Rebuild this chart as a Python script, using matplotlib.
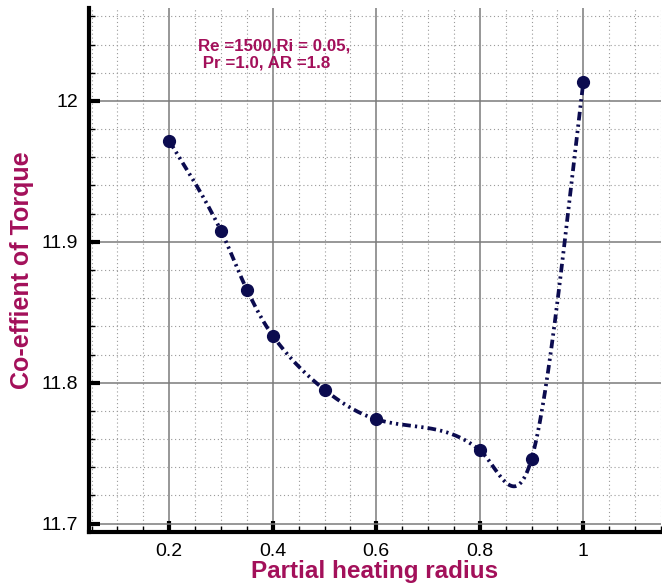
import numpy as np
import matplotlib
matplotlib.use("Agg")
import matplotlib.pyplot as plt
from matplotlib.ticker import MultipleLocator

radius = [0.2, 0.3, 0.35, 0.4, 0.5, 0.6, 0.8, 0.9, 1.0]
torque = [11.9716, 11.9078, 11.866, 11.8333, 11.795, 11.774, 11.752, 11.746, 12.0135]
x_ticks = [0.2, 0.4, 0.6, 0.8, 1.0]
x_ticklabels = ["0.2", "0.4", "0.6", "0.8", "1"]
y_ticks = [11.7, 11.8, 11.9, 12.0]
y_ticklabels = ["11.7", "11.8", "11.9", "12"]
annotation = "Re =1500,Ri = 0.05,\n Pr =1.0, AR =1.8"


def natural_spline(x, y, xs):
    x = np.asarray(x, float); y = np.asarray(y, float)
    n = len(x); h = np.diff(x)
    A = np.zeros((n, n)); b = np.zeros(n)
    A[0, 0] = 1; A[-1, -1] = 1
    for i in range(1, n - 1):
        A[i, i - 1] = h[i - 1]; A[i, i] = 2 * (h[i - 1] + h[i]); A[i, i + 1] = h[i]
        b[i] = 3 * ((y[i + 1] - y[i]) / h[i] - (y[i] - y[i - 1]) / h[i - 1])
    c = np.linalg.solve(A, b)
    out = np.empty_like(xs)
    for k, xv in enumerate(xs):
        i = min(max(np.searchsorted(x, xv) - 1, 0), n - 2)
        dx = xv - x[i]
        bb = (y[i + 1] - y[i]) / h[i] - h[i] * (2 * c[i] + c[i + 1]) / 3
        d = (c[i + 1] - c[i]) / (3 * h[i])
        out[k] = y[i] + bb * dx + c[i] * dx ** 2 + d * dx ** 3
    return out


def catmull_rom(x, y, xs):
    x = np.asarray(x, float); y = np.asarray(y, float)
    m = np.empty(len(x))
    m[1:-1] = (y[2:] - y[:-2]) / (x[2:] - x[:-2])
    m[0] = (y[1] - y[0]) / (x[1] - x[0]); m[-1] = (y[-1] - y[-2]) / (x[-1] - x[-2])
    out = np.empty_like(xs)
    for k, xv in enumerate(xs):
        i = min(max(np.searchsorted(x, xv) - 1, 0), len(x) - 2)
        h = x[i + 1] - x[i]; s = (xv - x[i]) / h
        out[k] = ((2*s**3 - 3*s**2 + 1) * y[i] + (s**3 - 2*s**2 + s) * h * m[i]
                  + (-2*s**3 + 3*s**2) * y[i + 1] + (s**3 - s**2) * h * m[i + 1])
    return out


plt.rcParams['font.family'] = ['Liberation Sans', 'DejaVu Sans']
fig = plt.figure(figsize=(6.62, 5.83), dpi=100)
ax = fig.add_axes([89 / 662, 51 / 583, 572 / 662, 524 / 583])

label_color = '#a3105a'
line_color = '#0b0b4f'

ax.set_xlim(0.045, 1.15)
ax.set_ylim(11.694, 12.066)

xs = np.linspace(radius[0], radius[-1], 800)
ys = 0.5 * (natural_spline(radius, torque, xs) + catmull_rom(radius, torque, xs))
ax.plot(xs, ys, color=line_color, lw=2.7, dashes=[2.3, 1.1, 0.6, 1.1, 0.6, 1.1], zorder=3)
ax.plot(radius, torque, 'o', color=line_color, ms=8.5, zorder=4)

ax.set_xticks(x_ticks)
ax.set_xticklabels(x_ticklabels)
ax.set_yticks(y_ticks)
ax.set_yticklabels(y_ticklabels)
ax.xaxis.set_minor_locator(MultipleLocator(0.05))
ax.yaxis.set_minor_locator(MultipleLocator(0.02))

ax.grid(which='major', color='#7a7a7a', lw=1.1)
ax.grid(which='minor', color='#9a9a9a', lw=0.8, ls=(0, (1, 2.5)))
ax.set_axisbelow(True)

ax.tick_params(which='major', direction='in', length=8, width=3, labelsize=14, color='black', pad=8)
ax.tick_params(which='minor', direction='in', length=4, width=1, color='black')
ax.tick_params(top=False, right=False, which='both')
for s in ['left', 'bottom']:
    ax.spines[s].set_linewidth(3)
for s in ['top', 'right']:
    ax.spines[s].set_visible(False)

ax.set_xlabel('Partial heating radius', fontsize=17.5, fontweight='bold', color=label_color, labelpad=0)
ax.set_ylabel('Co-effient of Torque', fontsize=18, fontweight='bold', color=label_color, labelpad=5)

ax.text(0.256, 12.044, annotation, fontsize=12.2, fontweight='bold', color=label_color,
        va='top', ha='left', linespacing=1.15)

fig.savefig('out.png', dpi=100)
